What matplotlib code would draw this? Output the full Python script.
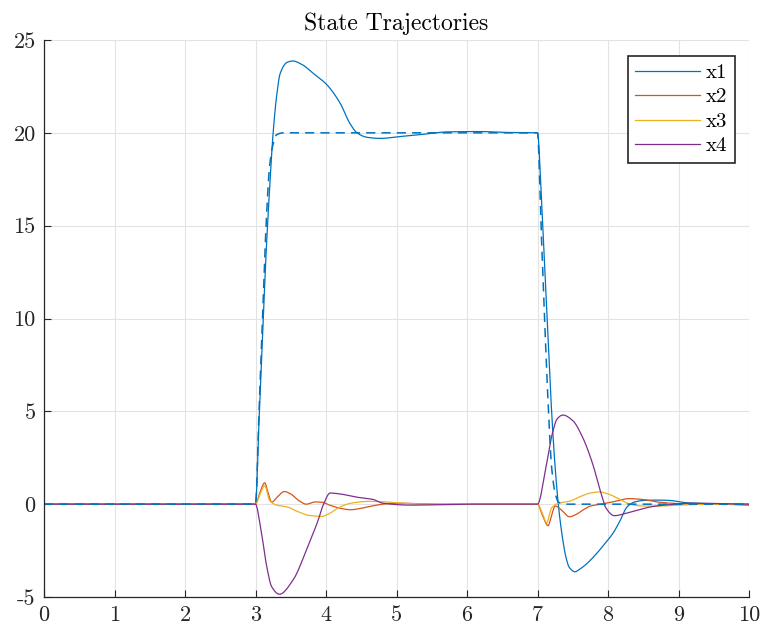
import matplotlib
matplotlib.use('Agg')
import matplotlib.pyplot as plt
import numpy as np

plt.rcParams['font.family'] = 'serif'
plt.rcParams['font.serif'] = ['cmr10']
plt.rcParams['axes.formatter.use_mathtext'] = True
plt.rcParams['axes.unicode_minus'] = False

# State x1 (solid) and its reference (dashed)
t_x1 = [0, 3.0, 3.05, 3.1, 3.15, 3.2, 3.25, 3.3, 3.35, 3.45, 3.53, 3.65, 3.82, 4.01, 4.2,
        4.34, 4.44, 4.58, 4.77, 5.05, 5.33, 5.72, 6.18, 6.57, 7.0, 7.05, 7.1, 7.15, 7.2,
        7.25, 7.3, 7.35, 7.4, 7.45, 7.53, 7.6, 7.7, 7.84, 7.95, 8.07, 8.17, 8.27, 8.38,
        8.5, 8.7, 8.88, 9.1, 9.5, 10]
x1 = [0, 0, 4.5, 9, 13.5, 17, 20, 22, 23.2, 23.8, 23.87, 23.7, 23.2, 22.6, 21.6,
      20.5, 20, 19.76, 19.7, 19.8, 19.9, 20.05, 20.07, 20.02, 20, 17, 13, 9, 5,
      2, -0.2, -1.7, -2.8, -3.4, -3.64, -3.5, -3.2, -2.65, -2.15, -1.57, -0.9, -0.15, 0.12,
      0.2, 0.22, 0.2, 0.08, 0.02, -0.05]

t_ref = [0, 3.0, 3.05, 3.1, 3.15, 3.2, 3.25, 3.3, 3.4, 7.0, 7.05, 7.1, 7.15, 7.2, 7.25, 7.3, 7.4, 10]
ref = [0, 0, 5, 10, 15, 18.2, 19.4, 19.9, 20, 20, 15, 10, 5.5, 2, 0.6, 0.1, 0, 0]

t_x2 = [0, 3.0, 3.06, 3.13, 3.18, 3.23, 3.3, 3.41, 3.5, 3.61, 3.72, 3.85, 3.95, 4.05, 4.2,
        4.35, 4.5, 4.65, 4.85, 5.0, 5.3, 5.6, 7.0, 7.07, 7.15, 7.2, 7.25, 7.35, 7.45, 7.55,
        7.65, 7.75, 7.9, 8.1, 8.3, 8.5, 8.7, 8.9, 9.2, 10]
x2 = [0, 0, 0.6, 1.15, 0.6, 0.1, 0.35, 0.68, 0.55, 0.2, 0.0, 0.12, 0.1, -0.05, -0.22,
      -0.3, -0.22, -0.1, 0.02, 0.05, 0.03, 0.0, 0, -0.6, -1.16, -0.6, -0.1, -0.35, -0.68, -0.55,
      -0.3, -0.1, 0.0, 0.15, 0.3, 0.25, 0.12, 0.05, 0.0, 0]

t_x3 = [0, 3.0, 3.06, 3.13, 3.2, 3.3, 3.45, 3.6, 3.75, 3.94, 4.05, 4.2, 4.35, 4.6, 4.85,
        5.1, 5.5, 7.0, 7.07, 7.13, 7.2, 7.3, 7.45, 7.6, 7.75, 7.88, 8.0, 8.15, 8.31, 8.5,
        8.75, 9.0, 9.5, 10]
x3 = [0, 0, 0.5, 1.0, 0.2, -0.05, -0.15, -0.4, -0.6, -0.66, -0.5, -0.15, 0.05, 0.15, 0.12,
      0.05, 0.0, 0, -0.5, -1.0, -0.2, 0.05, 0.15, 0.4, 0.6, 0.66, 0.55, 0.3, 0.0, -0.1,
      -0.1, -0.05, 0.0, 0]

t_x4 = [0, 3.0, 3.07, 3.16, 3.23, 3.34, 3.53, 3.72, 3.89, 3.96, 4.06, 4.2, 4.43, 4.67, 4.81,
        5.2, 6.0, 7.0, 7.12, 7.21, 7.28, 7.36, 7.5, 7.64, 7.78, 7.9, 7.97, 8.09, 8.25, 8.4,
        8.6, 8.8, 9.2, 10]
x4 = [0, 0, -1.2, -3.37, -4.45, -4.85, -4.1, -2.5, -0.85, -0.05, 0.6, 0.55, 0.38, 0.25, 0.05,
      -0.05, 0, 0, 2.0, 3.8, 4.6, 4.8, 4.5, 3.6, 2.2, 0.6, -0.2, -0.62, -0.5, -0.35,
      -0.15, -0.05, 0.05, 0]

labels = ['x1', 'x2', 'x3', 'x4']
xticks = list(range(0, 11))
yticks = [-5, 0, 5, 10, 15, 20, 25]


def smooth(t, y, n=3000):
    # monotone (PCHIP-style) resampling through the read points, no overshoot
    t = np.asarray(t, float)
    y = np.asarray(y, float)
    tt = np.linspace(t[0], t[-1], n)
    h = np.diff(t)
    d = np.diff(y) / h
    m = np.zeros_like(y)
    for i in range(1, len(y) - 1):
        if d[i - 1] * d[i] > 0:
            w1 = 2 * h[i] + h[i - 1]
            w2 = h[i] + 2 * h[i - 1]
            m[i] = (w1 + w2) / (w1 / d[i - 1] + w2 / d[i])
    m[0], m[-1] = d[0], d[-1]
    idx = np.clip(np.searchsorted(t, tt) - 1, 0, len(h) - 1)
    s = (tt - t[idx]) / h[idx]
    h00 = 2 * s**3 - 3 * s**2 + 1
    h10 = s**3 - 2 * s**2 + s
    h01 = -2 * s**3 + 3 * s**2
    h11 = s**3 - s**2
    yy = h00 * y[idx] + h10 * h[idx] * m[idx] + h01 * y[idx + 1] + h11 * h[idx] * m[idx + 1]
    return tt, yy


fig = plt.figure(figsize=(7.63, 6.31), dpi=100)
ax = fig.add_axes([44 / 763, 1 - 597 / 631, 705 / 763, 557 / 631])

c1, c2, c3, c4 = '#0072BD', '#D95319', '#EDB120', '#7E2F8E'
lw = 0.9

ax.plot(*smooth(t_x1, x1), color=c1, lw=lw, label=labels[0])
ax.plot(*smooth(t_x2, x2), color=c2, lw=lw, label=labels[1])
ax.plot(*smooth(t_x3, x3), color=c3, lw=lw, label=labels[2])
ax.plot(*smooth(t_x4, x4), color=c4, lw=lw, label=labels[3])
ax.plot(*smooth(t_ref, ref), color=c1, lw=1.1, linestyle=(0, (6, 4)))

ax.set_xlim(0, 10)
ax.set_ylim(-5, 25)
ax.set_xticks(xticks)
ax.set_xticklabels([str(v) for v in xticks])
ax.set_yticks(yticks)
ax.set_yticklabels([str(v) for v in yticks])
ax.tick_params(direction='in', length=5, width=0.8, colors='#262626', labelsize=16, pad=6)
ax.grid(True, color='#e3e3e3', linewidth=0.8)
ax.set_axisbelow(True)
for side in ['top', 'right']:
    ax.spines[side].set_visible(False)
for side in ['left', 'bottom']:
    ax.spines[side].set_color('#262626')
    ax.spines[side].set_linewidth(0.9)

ax.set_title('State Trajectories', fontsize=17, pad=7)

leg = ax.legend(loc='upper right', bbox_to_anchor=(0.980, 0.971), fontsize=15,
                fancybox=False, handlelength=3.1, handletextpad=0.3,
                borderpad=0.35, labelspacing=0.28, borderaxespad=0)
leg.get_frame().set_edgecolor('#262626')
leg.get_frame().set_linewidth(1.2)
leg.get_frame().set_alpha(1)

fig.savefig('out.png', dpi=100)
